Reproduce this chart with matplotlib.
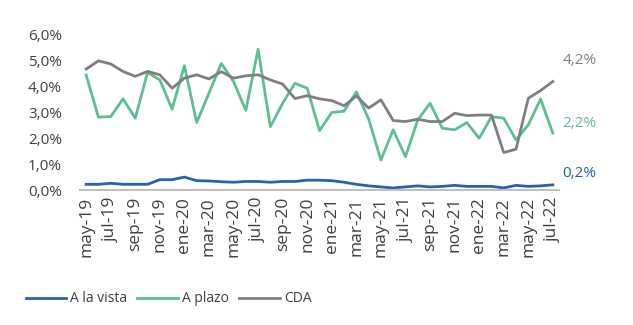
import matplotlib
matplotlib.use('Agg')
import matplotlib.pyplot as plt
import numpy as np

plt.rcParams['font.family'] = ['Open Sans', 'DejaVu Sans']

# monthly series, may-19 .. jul-22 (%)
meses = ['may-19', 'jun-19', 'jul-19', 'ago-19', 'sep-19', 'oct-19', 'nov-19', 'dic-19',
         'ene-20', 'feb-20', 'mar-20', 'abr-20', 'may-20', 'jun-20', 'jul-20', 'ago-20',
         'sep-20', 'oct-20', 'nov-20', 'dic-20', 'ene-21', 'feb-21', 'mar-21', 'abr-21',
         'may-21', 'jun-21', 'jul-21', 'ago-21', 'sep-21', 'oct-21', 'nov-21', 'dic-21',
         'ene-22', 'feb-22', 'mar-22', 'abr-22', 'may-22', 'jun-22', 'jul-22']

a_la_vista = [0.22, 0.22, 0.26, 0.22, 0.22, 0.22, 0.40, 0.40, 0.50, 0.36,
              0.35, 0.32, 0.30, 0.33, 0.33, 0.30, 0.33, 0.33, 0.38, 0.38,
              0.36, 0.30, 0.22, 0.16, 0.12, 0.08, 0.12, 0.16, 0.12, 0.14,
              0.18, 0.14, 0.14, 0.14, 0.08, 0.18, 0.14, 0.16, 0.20]

a_plazo = [4.45, 2.82, 2.84, 3.53, 2.78, 4.55, 4.26, 3.13, 4.81, 2.61,
           3.75, 4.90, 4.20, 3.08, 5.45, 2.45, 3.36, 4.13, 3.94, 2.30,
           3.00, 3.05, 3.80, 2.75, 1.16, 2.33, 1.29, 2.71, 3.36, 2.39,
           2.33, 2.61, 2.00, 2.84, 2.78, 1.94, 2.52, 3.52, 2.20]

cda = [4.68, 5.00, 4.88, 4.59, 4.40, 4.59, 4.46, 3.94, 4.33, 4.46,
       4.30, 4.58, 4.33, 4.42, 4.46, 4.26, 4.10, 3.54, 3.65, 3.53,
       3.46, 3.26, 3.64, 3.17, 3.49, 2.69, 2.65, 2.74, 2.65, 2.65,
       2.97, 2.88, 2.90, 2.90, 1.45, 1.58, 3.55, 3.85, 4.20]

c_vista = '#2563ad'
c_plazo = '#5cbf90'
c_cda = '#7f7f7f'

x = np.arange(len(meses))

fig = plt.figure(figsize=(6.33, 3.25), dpi=100)
ax = fig.add_axes([80/633, 135/325, 479/633, 155/325])

ax.plot(x, a_la_vista, color=c_vista, lw=2, label='A la vista')
ax.plot(x, a_plazo, color=c_plazo, lw=2, label='A plazo')
ax.plot(x, cda, color=c_cda, lw=2, label='CDA')

# end-of-series value labels
for serie, col, dy in [(cda, c_cda, 15), (a_plazo, c_plazo, 7), (a_la_vista, c_vista, 8)]:
    ax.annotate(f'{serie[-1]:.1f}%'.replace('.', ','), xy=(x[-1], serie[-1]),
                xytext=(7, dy), textcoords='offset points',
                color=col, fontsize=11, va='center', ha='left',
                annotation_clip=False)

ax.set_xlim(-0.5, len(meses) - 0.5)
ax.set_ylim(0, 6)
ax.set_yticks(np.arange(0, 7, 1))
ax.set_yticklabels([f'{v:.1f}%'.replace('.', ',') for v in range(7)])
ax.set_xticks(x[::2])
ax.set_xticklabels(meses[::2], rotation=90)

for s in ['top', 'right', 'left']:
    ax.spines[s].set_visible(False)
ax.spines['bottom'].set_color('#bfbfbf')
ax.spines['bottom'].set_linewidth(1.5)
ax.tick_params(axis='both', length=0, labelsize=11, colors='#404040')
ax.tick_params(axis='y', pad=13)
ax.tick_params(axis='x', pad=5, labelsize=12.5)

fig.legend(loc='lower left', bbox_to_anchor=(13/633, 6/325), ncol=3, frameon=False,
           fontsize=10, handlelength=2.9, handletextpad=0.3, columnspacing=0.75,
           labelcolor='#404040')

fig.savefig('out.png', dpi=100)
